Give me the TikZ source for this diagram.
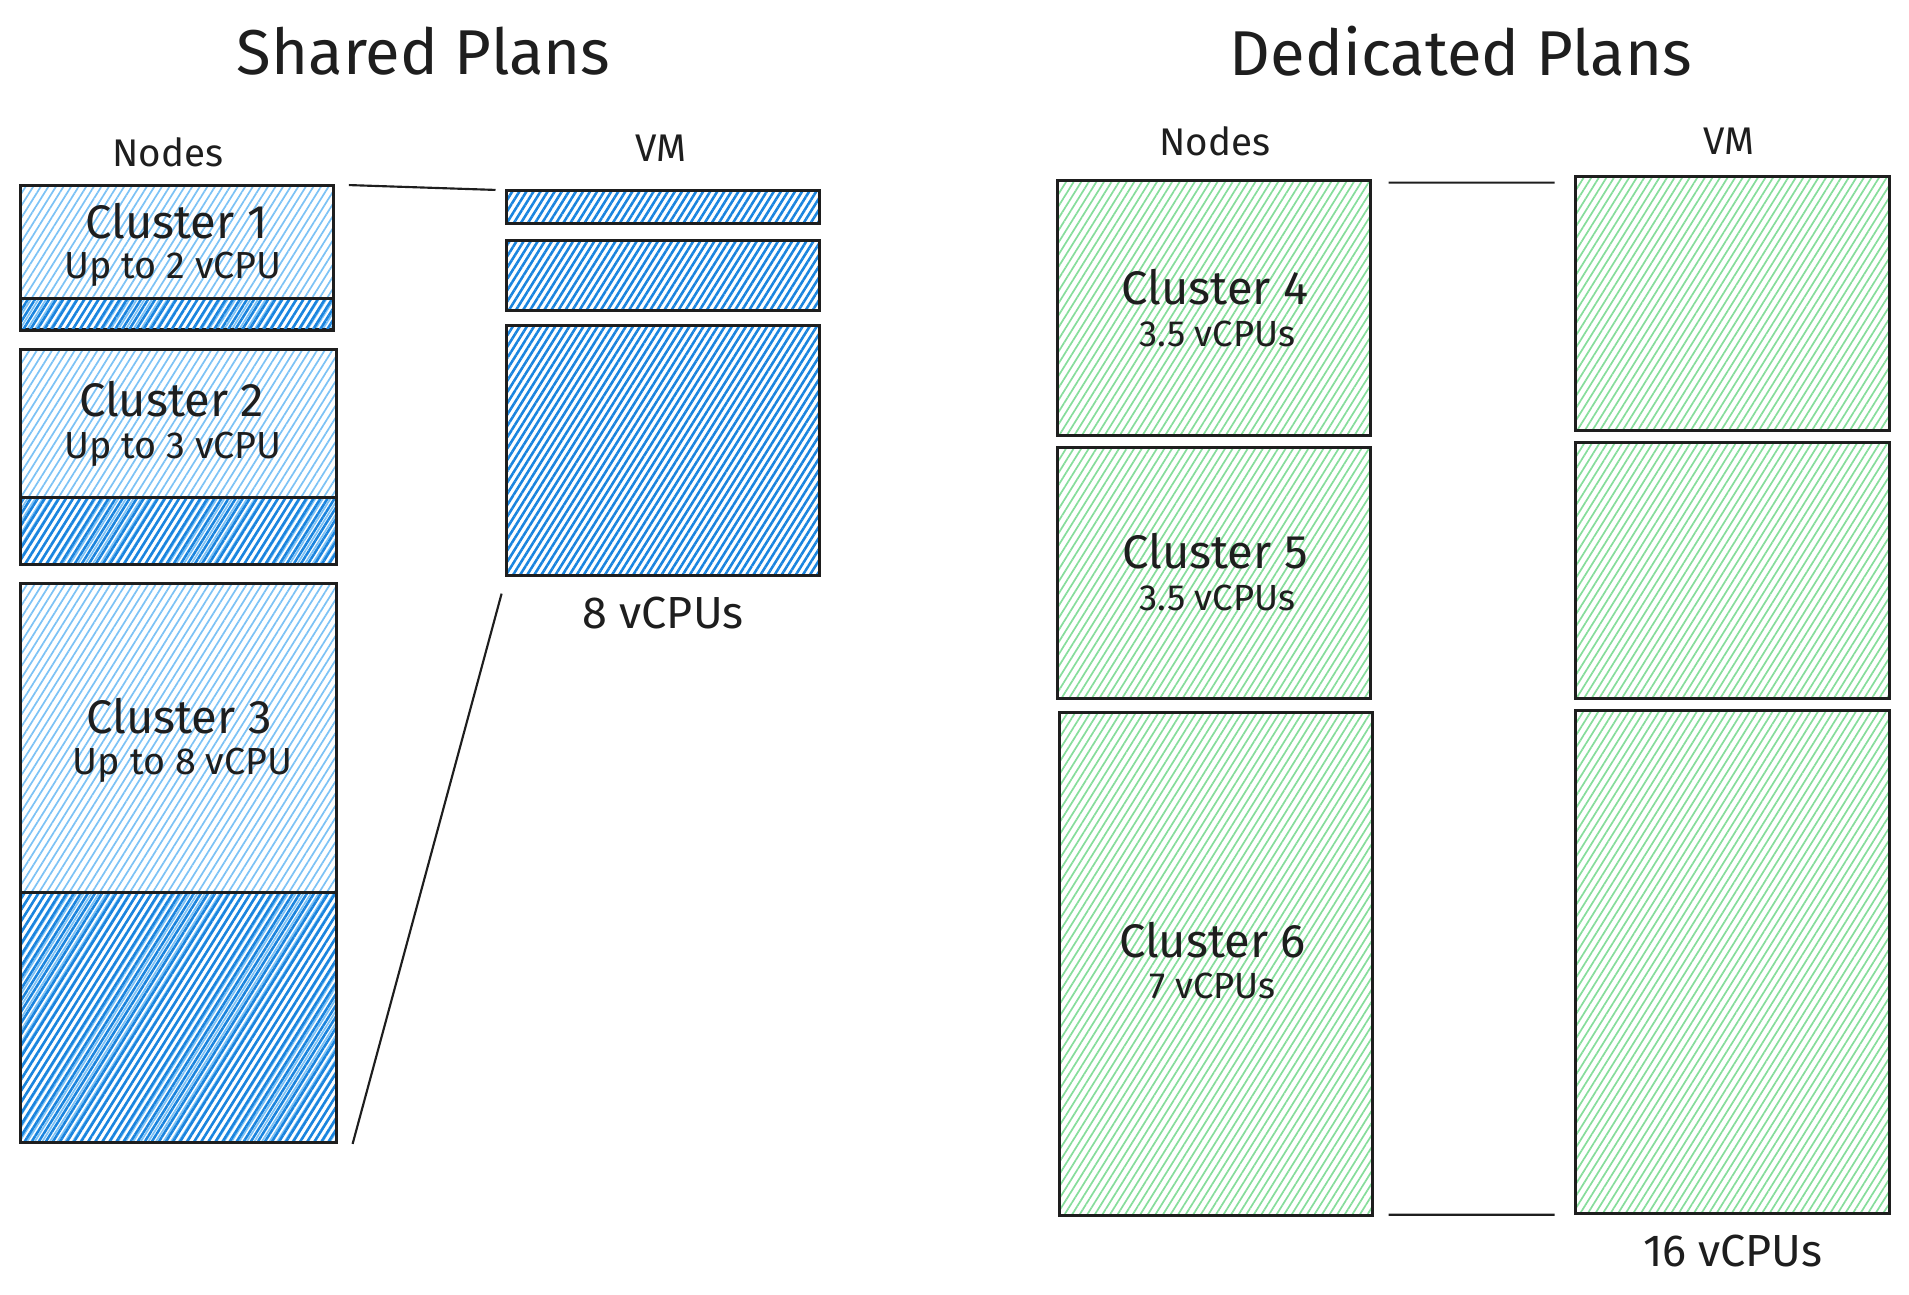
\documentclass[tikz,border=0pt]{standalone}
\usepackage{fontspec}
\setmainfont{Fira Sans}
\usepackage{xcolor}
\usepackage{tikz}
\usetikzlibrary{positioning,patterns.meta}

\definecolor{ink}{HTML}{1E1E1E}
\definecolor{freeblue}{HTML}{7CC2F5}
\definecolor{usedblue}{HTML}{1A84DE}
\definecolor{dedgreen}{HTML}{86DD9B}

\begin{document}
\begin{tikzpicture}[
			x=0.01cm, y=-0.01cm,
			box/.style={draw=ink, line width=0.7pt, anchor=north west, inner sep=0pt, minimum width=2.57cm},
			free/.style={box, pattern={Lines[angle=58, distance=1.5pt, line width=0.4pt]}, pattern color=freeblue},
			used/.style={box, pattern={Lines[angle=58, distance=1.4pt, line width=0.6pt]}, pattern color=usedblue},
			ded/.style={box, pattern={Lines[angle=58, distance=1.5pt, line width=0.4pt]}, pattern color=dedgreen},
			plantitle/.style={font=\fontsize{14.8}{18}\selectfont, text=ink},
			colhead/.style={font=\fontsize{9}{11}\selectfont, text=ink},
			clname/.style={font=\fontsize{11}{13}\selectfont, text=ink},
			clcpu/.style={font=\fontsize{8.8}{10}\selectfont, text=ink},
			vmtotal/.style={font=\fontsize{10.5}{12}\selectfont, text=ink},
			link/.style={draw=ink, line width=0.5pt}
			]
			
			\useasboundingbox (0,0) rectangle (1568,1063);
			
			% Planos compartilhados
			\node[plantitle] (shared) at (348,42) {Shared Plans};
			\node[colhead] (snodes) at (138,125) {Nodes};
			\node[colhead] (svm) at (543,122) {VM};
			
			% Clusters (parte livre e parte usada)
			\node[free, minimum height=1.18cm] (c1) at (16,152) {};
			\node[used, minimum height=0.26cm] (c1u) at (16,244) {};
			\node[free, minimum width=2.59cm, minimum height=1.76cm] (c2) at (16,286) {};
			\node[used, minimum width=2.59cm, minimum height=0.55cm] (c2u) at (16,407) {};
			\node[free, minimum width=2.59cm, minimum height=4.59cm] (c3) at (16,478) {};
			\node[used, minimum width=2.59cm, minimum height=2.05cm] (c3u) at (16,732) {};
			
			\node[clname] (c1name) at (145,182) {Cluster 1};
			\node[clcpu] (c1cpu) at (142,221) {Up to 2 vCPU};
			\node[clname] (c2name) at (141,328) {Cluster 2};
			\node[clcpu] (c2cpu) at (142,369) {Up to 3 vCPU};
			\node[clname] (c3name) at (147,588) {Cluster 3};
			\node[clcpu] (c3cpu) at (150,629) {Up to 8 vCPU};
			
			% VM compartilhada
			\node[used, minimum height=0.27cm] (va) at (415,155) {};
			\node[used, minimum height=0.58cm] (vb) at (415,196) {};
			\node[used, minimum height=2.05cm] (vc) at (415,266) {};
			\node[vmtotal, below=0.04cm of vc] (vc8) {8 vCPUs};
			
			\draw[link] ([xshift=0.12cm]c1.north east) -- ([xshift=-0.08cm, yshift=-0.01cm]va.north west);
			\draw[link] ([xshift=-0.03cm, yshift=-0.14cm]vc.south west) -- ([xshift=0.12cm]c3u.south east);
			
			% Planos dedicados
			\node[plantitle] (dedicated) at (1200,42) {Dedicated Plans};
			\node[colhead] (dnodes) at (998,116) {Nodes};
			\node[colhead] (dvm) at (1420,116) {VM};
			
			\node[ded, minimum height=2.09cm] (c4) at (867,147) {};
			\node[ded, minimum height=2.06cm] (c5) at (867,366) {};
			\node[ded, minimum height=4.13cm] (c6) at (869,584) {};
			
			\node[clname] (c4name) at (998,236) {Cluster 4};
			\node[clcpu, font=\fontsize{8.5}{10}\selectfont] (c4cpu) at (1000,274) {3.5 vCPUs};
			\node[clname] (c5name) at (998,453) {Cluster 5};
			\node[clcpu, font=\fontsize{8.5}{10}\selectfont] (c5cpu) at (1000,491) {3.5 vCPUs};
			\node[clname] (c6name) at (996,772) {Cluster 6};
			\node[clcpu, font=\fontsize{8.5}{10}\selectfont] (c6cpu) at (996,810) {7 vCPUs};
			
			% VM dedicada
			\node[ded, minimum width=2.58cm, minimum height=2.08cm] (v4) at (1293,144) {};
			\node[ded, minimum width=2.58cm, minimum height=2.10cm] (v5) at (1293,362) {};
			\node[ded, minimum width=2.58cm, minimum height=4.13cm] (v6) at (1293,582) {};
			\node[vmtotal, below=0.04cm of v6] (v16) {16 vCPUs};
			
			\draw[link] ([xshift=0.14cm, yshift=-0.03cm]c4.north east) -- ([xshift=-0.16cm, yshift=-0.06cm]v4.north west);
			\draw[link] ([xshift=0.12cm, yshift=0.02cm]c6.south east) -- ([xshift=-0.16cm]v6.south west);
			
		\end{tikzpicture}
\end{document}
